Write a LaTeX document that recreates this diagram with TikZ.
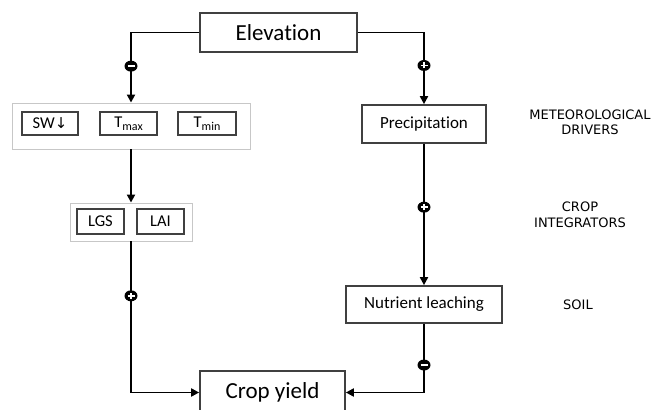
\documentclass[tikz,border=0pt]{standalone}
\usepackage{fontspec}
\setmainfont[Ligatures=NoCommon]{Carlito}
\newfontfamily\labfont{DejaVu Sans}
\usetikzlibrary{arrows.meta,shapes.geometric}
\tikzset{
  box/.style={draw=black!75, line width=1.7pt, fill=white, inner sep=0pt, align=center},
  grp/.style={draw=black!22, line width=0.9pt, fill=white, inner sep=0pt},
  conn/.style={line width=1.9pt, -{Triangle[length=8pt,width=8pt]}},
  lab/.style={font=\labfont\fontsize{13}{15.5}\selectfont, align=center, inner sep=0pt},
  mk/.style={ellipse, fill=black, draw=none, minimum width=13pt, minimum height=11pt, inner sep=0pt},
  minusmark/.style={mk, path picture={\draw[-, white, line width=1.8pt] ([xshift=-3.5pt]path picture bounding box.center) -- ([xshift=3.5pt]path picture bounding box.center);}},
  plusmark/.style={mk, path picture={\draw[-, white, line width=1.6pt] ([xshift=-3.5pt]path picture bounding box.center) -- ([xshift=3.5pt]path picture bounding box.center) ([yshift=-3pt]path picture bounding box.center) -- ([yshift=3pt]path picture bounding box.center);}},
  big/.style={font=\fontsize{23}{26}\selectfont},
  mid/.style={font=\fontsize{17}{19}\selectfont},
  sml/.style={font=\fontsize{16.5}{18}\selectfont}
}
\begin{document}
\begin{tikzpicture}[x=1pt,y=-1pt]
\useasboundingbox (0,0) rectangle (654,410);
\clip (0,0) rectangle (654,410);
% main boxes
\node[box, big, minimum width=157pt, minimum height=39pt] (elev) at (278.5,32.5) {Elevation};
\node[box, mid, minimum width=124pt, minimum height=38pt] (precip) at (424,124) {Precipitation};
\node[box, mid, minimum width=156pt, minimum height=37pt] (nutr) at (424,304.5) {Nutrient leaching};
\node[box, big, minimum width=145pt, minimum height=43pt] (crop) at (272.5,392.5) {Crop yield};
% group 1
\node[grp, minimum width=238pt, minimum height=46pt] (grp1) at (131,126) {};
\node[box, sml, minimum width=56pt, minimum height=23pt] (sw) at (50,123.5) {SW{\labfont\fontsize{15}{17}\selectfont ↓}};
\node[box, sml, minimum width=57pt, minimum height=23pt] (tmax) at (128.5,123.5) {T\raisebox{-2.5pt}{\fontsize{12}{13}\selectfont max}};
\node[box, sml, minimum width=58pt, minimum height=23pt] (tmin) at (207,123.5) {T\raisebox{-2.5pt}{\fontsize{12}{13}\selectfont min}};
% group 2
\node[grp, minimum width=122pt, minimum height=38pt] (grp2) at (131,222) {};
\node[box, sml, minimum width=47pt, minimum height=25pt] (lgs) at (100.5,221.5) {LGS};
\node[box, sml, minimum width=47pt, minimum height=25pt] (lai) at (160.5,221.5) {LAI};
% labels
\node[lab] (l1) at (590,122.5) {METEOROLOGICAL\\DRIVERS};
\node[lab] (l2) at (580,215) {CROP\\INTEGRATORS};
\node[lab] (l3) at (578,305) {SOIL};
% connectors
\draw[conn] (elev.west) -| (grp1.north) node[pos=0.74, minusmark] {};
\draw[conn] (elev.east) -| (precip.north) node[pos=0.73, plusmark] {};
\draw[conn] (grp1.south) -- (grp2.north);
\draw[conn] (grp2.south) |- (crop.west) node[pos=0.18, plusmark] {};
\draw[conn] (precip.south) -- (nutr.north) node[pos=0.448, plusmark] {};
\draw[conn] (nutr.south) |- (crop.east) node[pos=0.30, minusmark] {};
\end{tikzpicture}
\end{document}
